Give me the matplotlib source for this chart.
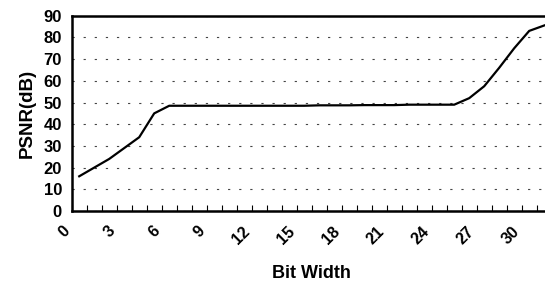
import numpy as np
import matplotlib
matplotlib.use("Agg")
import matplotlib.pyplot as plt
import matplotlib.transforms as mtransforms

# bit widths 1..32, PSNR
bit_width = list(range(1, 33))
psnr = [16, 20, 24, 29, 34, 45, 48.5, 48.5, 48.5, 48.5,
        48.5, 48.5, 48.5, 48.5, 48.5, 48.5, 48.7, 48.7, 48.7, 48.8,
        48.8, 48.8, 49, 49, 49, 49, 52, 57.5, 66, 75,
        83, 85.5]
y_ticks = list(range(0, 100, 10))
x_labels = list(range(0, 33, 3))

plt.rcParams["font.family"] = ["Liberation Sans", "DejaVu Sans"]
plt.rcParams["font.weight"] = "bold"

fig = plt.figure(figsize=(5.45, 2.84), dpi=100)
ax = fig.add_axes([0.1316, 0.257, 0.8807, 0.6877])

# categories sit between the tick marks
xs = np.array(bit_width) - 0.5
ax.plot(xs, psnr, color="black", linewidth=1.6, zorder=3)

ax.set_xlim(0, 32)
ax.set_ylim(0, 90)
ax.set_yticks(y_ticks)
ax.set_yticklabels([str(v) for v in y_ticks], fontsize=12, fontweight="bold")
ax.set_xticks(range(0, 33))
ax.set_xticklabels([str(i) if i in x_labels else "" for i in range(0, 33)],
                   rotation=45, ha="right", va="top", rotation_mode="anchor",
                   fontsize=11.5, fontweight="bold")

ax.tick_params(axis="x", direction="in", length=4, width=0.8, pad=9)
ax.tick_params(axis="y", length=0, pad=7)

# nudge the slanted labels a little to the left, like the original
shift = mtransforms.ScaledTranslation(-7 / 72, 0, fig.dpi_scale_trans)
for lbl in ax.get_xticklabels():
    lbl.set_transform(lbl.get_transform() + shift)

ax.grid(axis="y", color="#444444", linestyle=(0, (2, 8)), linewidth=0.8)
ax.set_axisbelow(True)

for side in ["left", "bottom", "top"]:
    ax.spines[side].set_linewidth(1.8)
ax.spines["right"].set_visible(False)

ax.set_ylabel("PSNR(dB)", fontsize=13.5, fontweight="bold", labelpad=6)
ax.set_xlabel("Bit Width", fontsize=13, fontweight="bold", labelpad=13)

fig.savefig("out.png", dpi=100)
